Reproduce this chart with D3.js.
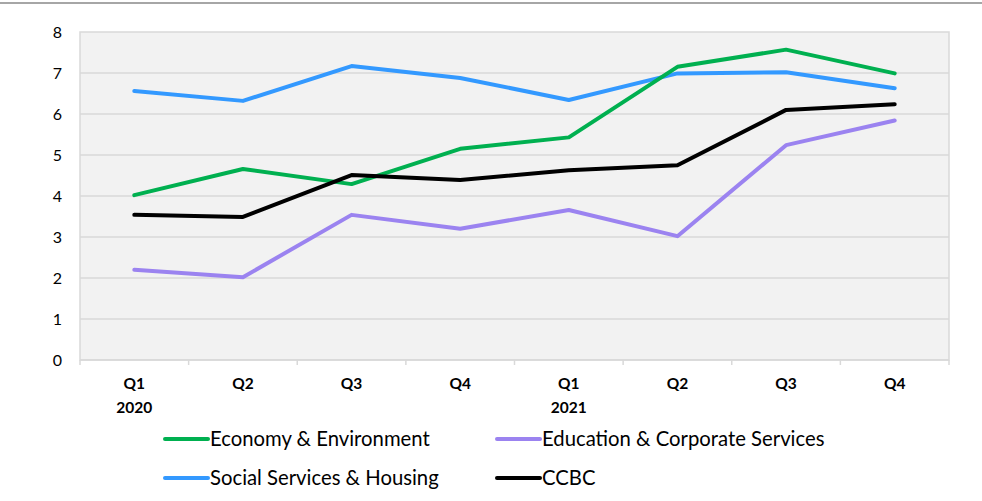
<!DOCTYPE html>
<html>
<head>
<meta charset="utf-8">
<script src="https://cdn.jsdelivr.net/npm/d3@7"></script>
<style>
  body { margin: 0; background: #fff; }
  svg { display: block; font-family: Lato, "Open Sans", sans-serif; }
</style>
</head>
<body>
<div id="chart"></div>
<script>
// quarters and year labels
const quarters = ["Q1", "Q2", "Q3", "Q4", "Q1", "Q2", "Q3", "Q4"];
const years = ["2020", "", "", "", "2021", "", "", ""];
const yTicks = [0, 1, 2, 3, 4, 5, 6, 7, 8];

const economy = [4.02, 4.66, 4.29, 5.15, 5.43, 7.15, 7.57, 6.99];
const education = [2.2, 2.02, 3.54, 3.2, 3.66, 3.02, 5.24, 5.84];
const social = [6.56, 6.32, 7.17, 6.88, 6.34, 6.99, 7.02, 6.63];
const ccbc = [3.54, 3.49, 4.51, 4.39, 4.63, 4.75, 6.1, 6.24];

const seriesNames = ["Economy & Environment", "Education & Corporate Services", "Social Services & Housing", "CCBC"];
const seriesColors = ["#00b050", "#9b83f0", "#3399ff", "#000000"];

const W = 982, H = 501;
const svg = d3.select("#chart").append("svg")
    .attr("width", W)
    .attr("height", H);

// thin rule along the top
svg.append("line")
    .attr("x1", 0).attr("x2", W)
    .attr("y1", 3).attr("y2", 3)
    .attr("stroke", "#a6a6a6")
    .attr("stroke-width", 2);

const plotL = 80, plotR = 949, plotT = 32, plotB = 360;

const x = d3.scaleBand()
    .domain(d3.range(quarters.length))
    .range([plotL, plotR]);

const y = d3.scaleLinear()
    .domain([0, 8])
    .range([plotB, plotT]);

// plot area
svg.append("rect")
    .attr("x", plotL).attr("y", plotT)
    .attr("width", plotR - plotL).attr("height", plotB - plotT)
    .attr("fill", "#f2f2f2")
    .attr("stroke", "#d9d9d9")
    .attr("stroke-width", 1.5);

// gridlines
svg.append("g")
    .selectAll("line")
    .data(yTicks.slice(1, -1))
    .join("line")
    .attr("x1", plotL).attr("x2", plotR)
    .attr("y1", d => y(d)).attr("y2", d => y(d))
    .attr("stroke", "#d9d9d9")
    .attr("stroke-width", 1.5);

// y axis labels
svg.append("g")
    .selectAll("text")
    .data(yTicks)
    .join("text")
    .attr("x", 62)
    .attr("y", d => y(d))
    .attr("dy", "0.35em")
    .attr("text-anchor", "end")
    .attr("font-size", 16)
    .attr("fill", "#000")
    .text(d => d);

// x axis line and ticks
svg.append("line")
    .attr("x1", plotL).attr("x2", plotR)
    .attr("y1", plotB).attr("y2", plotB)
    .attr("stroke", "#d9d9d9")
    .attr("stroke-width", 1.5);

svg.append("g")
    .selectAll("line")
    .data(d3.range(quarters.length + 1))
    .join("line")
    .attr("x1", i => plotL + i * x.step())
    .attr("x2", i => plotL + i * x.step())
    .attr("y1", plotB).attr("y2", plotB + 5)
    .attr("stroke", "#d9d9d9")
    .attr("stroke-width", 1.5);

svg.append("g")
    .selectAll("text")
    .data(quarters)
    .join("text")
    .attr("x", (d, i) => x(i) + x.bandwidth() / 2)
    .attr("y", 389)
    .attr("text-anchor", "middle")
    .attr("font-size", 15.5)
    .attr("font-weight", "bold")
    .text(d => d);

svg.append("g")
    .selectAll("text")
    .data(years)
    .join("text")
    .attr("x", (d, i) => x(i) + x.bandwidth() / 2)
    .attr("y", 413)
    .attr("text-anchor", "middle")
    .attr("font-size", 15.5)
    .attr("font-weight", "bold")
    .text(d => d);

// lines
const line = d3.line()
    .x((d, i) => x(i) + x.bandwidth() / 2)
    .y(d => y(d));

const allSeries = [economy, education, social, ccbc];
const drawOrder = [2, 0, 1, 3];

svg.append("g")
    .selectAll("path")
    .data(drawOrder)
    .join("path")
    .attr("d", k => line(allSeries[k]))
    .attr("fill", "none")
    .attr("stroke", k => seriesColors[k])
    .attr("stroke-width", 4)
    .attr("stroke-linejoin", "round")
    .attr("stroke-linecap", "round");

// legend
const legendPos = [[165, 439], [497, 439], [165, 478], [497, 478]];
const lg = svg.append("g")
    .selectAll("g")
    .data(seriesNames)
    .join("g")
    .attr("transform", (d, i) => `translate(${legendPos[i][0]},${legendPos[i][1]})`);

lg.append("line")
    .attr("x1", 0).attr("x2", 43)
    .attr("y1", 0).attr("y2", 0)
    .attr("stroke", (d, i) => seriesColors[i])
    .attr("stroke-width", 4)
    .attr("stroke-linecap", "round");

lg.append("text")
    .attr("x", 45)
    .attr("dy", "0.35em")
    .attr("font-size", 20.3)
    .attr("fill", "#000")
    .text(d => d);
</script>
</body>
</html>
